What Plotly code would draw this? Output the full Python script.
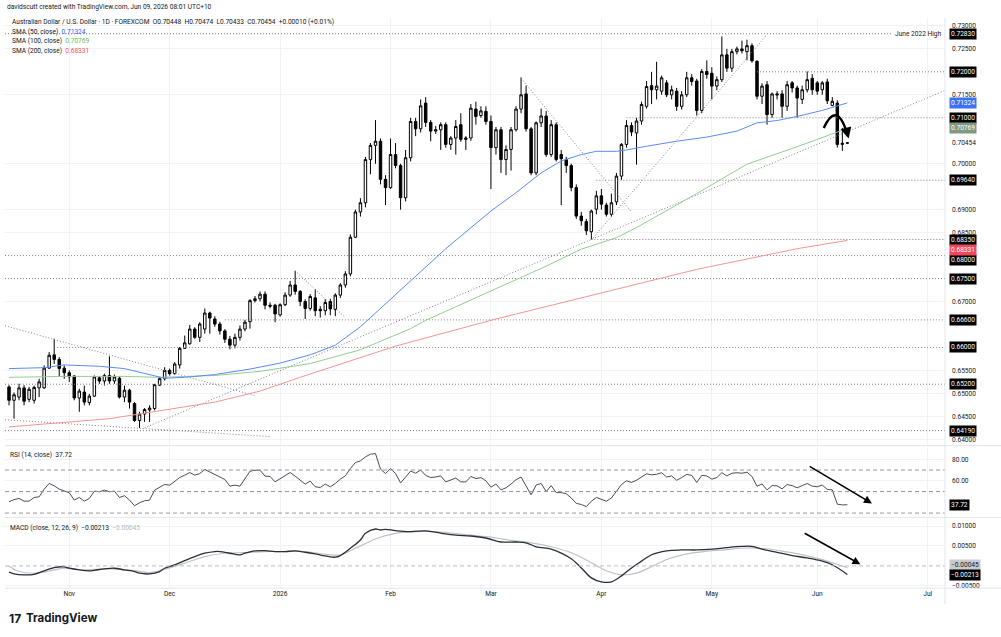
import pandas as pd
import plotly.graph_objects as go

# ---------------------------------------------------------------- data
HOLIDAYS = ["2025-12-25"]
SESSIONS = [d.strftime("%Y-%m-%d") for d in pd.bdate_range("2025-10-16", "2026-07-31")
            if d.strftime("%Y-%m-%d") not in HOLIDAYS]

opens = [
    0.6514, 0.6485, 0.6492, 0.6512, 0.6487, 0.6485, 0.6512, 0.6512, 0.6555, 0.6584,
    0.6574, 0.6555, 0.6545, 0.6538, 0.6490, 0.6503, 0.6480, 0.6494, 0.6534, 0.6527,
    0.6539, 0.6527, 0.6533, 0.6492, 0.6507, 0.6478, 0.6441, 0.6455, 0.6464, 0.6467,
    0.6518, 0.6532, 0.6550, 0.6543, 0.6562, 0.6598, 0.6608, 0.6640, 0.6622, 0.6640,
    0.6675, 0.6662, 0.6651, 0.6636, 0.6618, 0.6605, 0.6622, 0.6640, 0.6656, 0.6702,
    0.6706, 0.6716, 0.6692, 0.6692, 0.6671, 0.6693, 0.6714, 0.6736, 0.6722, 0.6700,
    0.6685, 0.6708, 0.6683, 0.6680, 0.6700, 0.6683, 0.6714, 0.6736, 0.6760, 0.6840,
    0.6895, 0.6915, 0.7009, 0.7040, 0.7049, 0.6966, 0.6948, 0.7020, 0.6996, 0.6926,
    0.7013, 0.7092, 0.7076, 0.7132, 0.7090, 0.7071, 0.7074, 0.7085, 0.7042, 0.7056,
    0.7085, 0.7053, 0.7056, 0.7119, 0.7105, 0.7114, 0.7092, 0.7035, 0.7074, 0.7009,
    0.7031, 0.7074, 0.7119, 0.7152, 0.7076, 0.6980, 0.7089, 0.7104, 0.7020, 0.7085,
    0.7020, 0.7009, 0.6996, 0.6948, 0.6886, 0.6874, 0.6852, 0.6901, 0.6930, 0.6910,
    0.6890, 0.6917, 0.6973, 0.7042, 0.7083, 0.7067, 0.7093, 0.7125, 0.7170, 0.7161,
    0.7158, 0.7176, 0.7150, 0.7158, 0.7125, 0.7150, 0.7187, 0.7180, 0.7116, 0.7201,
    0.7197, 0.7169, 0.7183, 0.7237, 0.7208, 0.7244, 0.7250, 0.7244, 0.7257, 0.7223,
    0.7147, 0.7172, 0.7107, 0.7152, 0.7152, 0.7125, 0.7176, 0.7165, 0.7140, 0.7161,
    0.7186, 0.7176, 0.7161, 0.7178, 0.7127, 0.7132, 0.7042, 0.70448,
]
highs = [
    0.6518, 0.6502, 0.6521, 0.6518, 0.6514, 0.6517, 0.6532, 0.6561, 0.6590, 0.6619,
    0.6579, 0.6561, 0.6550, 0.6539, 0.6510, 0.6517, 0.6499, 0.6539, 0.6538, 0.6543,
    0.6581, 0.6541, 0.6536, 0.6517, 0.6510, 0.6481, 0.6460, 0.6468, 0.6474, 0.6521,
    0.6536, 0.6557, 0.6554, 0.6568, 0.6601, 0.6626, 0.6649, 0.6644, 0.6655, 0.6685,
    0.6678, 0.6668, 0.6656, 0.6640, 0.6625, 0.6630, 0.6648, 0.6660, 0.6705, 0.6712,
    0.6722, 0.6722, 0.6698, 0.6695, 0.6696, 0.6720, 0.6745, 0.6767, 0.6725, 0.6705,
    0.6716, 0.6727, 0.6690, 0.6705, 0.6706, 0.6718, 0.6740, 0.6766, 0.6846, 0.6900,
    0.6925, 0.7015, 0.7045, 0.7095, 0.7055, 0.6975, 0.7055, 0.7045, 0.7000, 0.7030,
    0.7100, 0.7100, 0.7140, 0.7145, 0.7095, 0.7082, 0.7090, 0.7090, 0.7060, 0.7095,
    0.7110, 0.7060, 0.7130, 0.7135, 0.7125, 0.7125, 0.7105, 0.7080, 0.7080, 0.7040,
    0.7080, 0.7125, 0.7188, 0.7170, 0.7080, 0.7092, 0.7120, 0.7115, 0.7095, 0.7090,
    0.7030, 0.7015, 0.7000, 0.6955, 0.6895, 0.6880, 0.6900, 0.6941, 0.6945, 0.6915,
    0.6935, 0.6980, 0.7045, 0.7095, 0.7090, 0.7100, 0.7135, 0.7180, 0.7200, 0.7222,
    0.7192, 0.7182, 0.7170, 0.7165, 0.7158, 0.7200, 0.7195, 0.7185, 0.7206, 0.7225,
    0.7210, 0.7190, 0.7277, 0.7250, 0.7250, 0.7255, 0.7268, 0.7270, 0.7262, 0.7225,
    0.7175, 0.7180, 0.7155, 0.7158, 0.7160, 0.7180, 0.7180, 0.7170, 0.7170, 0.7201,
    0.7195, 0.7180, 0.7180, 0.7185, 0.7145, 0.7138, 0.7078, 0.70474,
]
lows = [
    0.6474, 0.6445, 0.6485, 0.6474, 0.6481, 0.6478, 0.6492, 0.6510, 0.6554, 0.6564,
    0.6536, 0.6532, 0.6525, 0.6485, 0.6460, 0.6474, 0.6474, 0.6492, 0.6521, 0.6517,
    0.6521, 0.6521, 0.6489, 0.6481, 0.6467, 0.6438, 0.6425, 0.6438, 0.6438, 0.6463,
    0.6516, 0.6528, 0.6539, 0.6541, 0.6554, 0.6597, 0.6606, 0.6619, 0.6612, 0.6630,
    0.6630, 0.6645, 0.6628, 0.6610, 0.6596, 0.6598, 0.6615, 0.6635, 0.6641, 0.6698,
    0.6700, 0.6683, 0.6685, 0.6655, 0.6667, 0.6690, 0.6710, 0.6715, 0.6690, 0.6662,
    0.6680, 0.6668, 0.6665, 0.6670, 0.6670, 0.6668, 0.6708, 0.6730, 0.6755, 0.6838,
    0.6885, 0.6905, 0.6977, 0.7000, 0.6955, 0.6910, 0.6945, 0.6990, 0.6900, 0.6918,
    0.7005, 0.7060, 0.7068, 0.7080, 0.7049, 0.7065, 0.7030, 0.7035, 0.7030, 0.7020,
    0.7048, 0.7030, 0.7050, 0.7085, 0.7100, 0.7085, 0.6945, 0.7020, 0.6980, 0.6975,
    0.6985, 0.7070, 0.7110, 0.7070, 0.6975, 0.6975, 0.7080, 0.7015, 0.7015, 0.7005,
    0.6910, 0.6980, 0.6940, 0.6880, 0.6865, 0.6845, 0.6835, 0.6890, 0.6900, 0.6885,
    0.6885, 0.6910, 0.6965, 0.7035, 0.7060, 0.6998, 0.7085, 0.7120, 0.7130, 0.7140,
    0.7150, 0.7145, 0.7140, 0.7115, 0.7118, 0.7145, 0.7170, 0.7105, 0.7110, 0.7185,
    0.7140, 0.7160, 0.7178, 0.7200, 0.7200, 0.7238, 0.7240, 0.7225, 0.7220, 0.7140,
    0.7130, 0.7085, 0.7100, 0.7140, 0.7100, 0.7115, 0.7155, 0.7100, 0.7130, 0.7155,
    0.7150, 0.7150, 0.7150, 0.7130, 0.7125, 0.7035, 0.7028, 0.70433,
]
closes = [
    0.6485, 0.6497, 0.6512, 0.6483, 0.6509, 0.6513, 0.6525, 0.6555, 0.6583, 0.6574,
    0.6554, 0.6545, 0.6536, 0.6490, 0.6505, 0.6481, 0.6494, 0.6536, 0.6527, 0.6539,
    0.6527, 0.6536, 0.6492, 0.6507, 0.6481, 0.6441, 0.6455, 0.6465, 0.6468, 0.6519,
    0.6532, 0.6550, 0.6543, 0.6564, 0.6598, 0.6610, 0.6640, 0.6622, 0.6651, 0.6675,
    0.6664, 0.6651, 0.6636, 0.6618, 0.6605, 0.6622, 0.6640, 0.6655, 0.6702, 0.6706,
    0.6716, 0.6692, 0.6690, 0.6673, 0.6693, 0.6714, 0.6736, 0.6722, 0.6700, 0.6685,
    0.6711, 0.6680, 0.6680, 0.6698, 0.6684, 0.6714, 0.6736, 0.6760, 0.6840, 0.6895,
    0.6915, 0.7009, 0.7040, 0.7049, 0.6966, 0.6948, 0.7020, 0.6996, 0.6926, 0.7013,
    0.7092, 0.7076, 0.7126, 0.7090, 0.7071, 0.7074, 0.7085, 0.7042, 0.7056, 0.7081,
    0.7053, 0.7056, 0.7121, 0.7103, 0.7115, 0.7092, 0.7035, 0.7074, 0.7009, 0.7031,
    0.7074, 0.7119, 0.7150, 0.7076, 0.6980, 0.7089, 0.7104, 0.7020, 0.7085, 0.7009,
    0.7011, 0.6996, 0.6948, 0.6886, 0.6876, 0.6854, 0.6897, 0.6930, 0.6912, 0.6890,
    0.6915, 0.6973, 0.7042, 0.7083, 0.7069, 0.7093, 0.7129, 0.7168, 0.7161, 0.7169,
    0.7187, 0.7150, 0.7161, 0.7125, 0.7150, 0.7187, 0.7179, 0.7116, 0.7201, 0.7194,
    0.7169, 0.7183, 0.7237, 0.7208, 0.7244, 0.7250, 0.7246, 0.7257, 0.7224, 0.7147,
    0.7169, 0.7107, 0.7152, 0.7150, 0.7125, 0.7172, 0.7165, 0.7143, 0.7161, 0.7183,
    0.7161, 0.7158, 0.7176, 0.7137, 0.7136, 0.7042, 0.70444, 0.70454,
]

# moving averages (bar number, value)
sma50_bars = [0, 7, 11, 18, 23, 28, 31, 35, 41, 48, 54, 60, 65, 70, 75, 80, 83, 87, 96, 101,
              106, 110, 114, 117, 121, 123, 127, 133, 139, 145, 149, 153, 157, 162, 167]
sma50_vals = [0.6554, 0.6556, 0.6562, 0.6559, 0.6554, 0.6541, 0.6533, 0.6535, 0.6541, 0.6553,
              0.6566, 0.6584, 0.6605, 0.6645, 0.6695, 0.6745, 0.6775, 0.6815, 0.6897, 0.6937,
              0.6980, 0.7006, 0.7020, 0.7027, 0.7027, 0.7030, 0.7038, 0.7049, 0.7058, 0.7071,
              0.7089, 0.7094, 0.7103, 0.7116, 0.71324]
sma100_bars = [0, 11, 23, 30, 41, 50, 60, 70, 80, 83, 97, 107, 114, 121, 125, 137, 147, 157, 167]
sma100_vals = [0.6535, 0.6537, 0.6537, 0.6535, 0.6539, 0.6548, 0.6565, 0.6595, 0.6641, 0.6659,
               0.6728, 0.6777, 0.6814, 0.6839, 0.6861, 0.6935, 0.6999, 0.7037, 0.70769]
sma200_bars = [0, 20, 41, 50, 58, 68, 77, 97, 117, 137, 157, 167]
sma200_vals = [0.6427, 0.6445, 0.6481, 0.6505, 0.6535, 0.6570, 0.6603, 0.6662, 0.6716, 0.6770,
               0.6815, 0.68331]

rsi14 = [
    40.5, 42.5, 43.6, 41.1, 41.1, 44.5, 45.1, 52.2, 57.5, 55.3,
    52.2, 50.4, 48.9, 42.1, 44.5, 41.1, 43.6, 50.4, 49.8, 51.3,
    49.8, 50.4, 44.5, 46.1, 42.1, 36.8, 39.6, 41.4, 42.1, 51.3,
    53.8, 56.6, 55.9, 59.7, 63.0, 65.2, 67.7, 65.2, 66.7, 70.5,
    68.3, 66.1, 63.7, 61.2, 55.0, 55.9, 55.0, 62.1, 68.9, 69.8,
    69.8, 64.3, 64.0, 59.0, 62.1, 64.6, 67.7, 64.3, 60.6, 56.9,
    59.7, 54.4, 53.8, 56.9, 54.4, 57.5, 61.5, 64.6, 71.4, 76.9,
    78.5, 82.2, 84.7, 85.3, 70.8, 66.7, 71.4, 66.7, 58.0, 64.0,
    69.0, 67.0, 70.0, 65.0, 63.0, 63.5, 64.5, 59.0, 60.5, 62.5,
    59.0, 59.0, 64.0, 62.0, 63.0, 60.0, 54.0, 57.0, 51.5, 53.5,
    57.0, 61.0, 63.5, 55.5, 47.0, 56.0, 57.5, 50.0, 55.5, 49.0,
    49.0, 48.0, 44.0, 39.0, 38.0, 36.0, 41.0, 44.5, 43.0, 41.0,
    44.0, 50.0, 56.5, 60.0, 58.5, 60.5, 63.5, 66.5, 65.5, 66.0,
    67.5, 63.5, 64.5, 60.5, 63.0, 66.0, 65.0, 58.5, 65.0, 64.5,
    61.5, 63.0, 67.5, 64.5, 67.0, 67.5, 67.0, 68.0, 64.0, 55.0,
    57.0, 51.5, 55.5, 55.3, 52.5, 56.5, 55.5, 53.5, 55.5, 57.5,
    55.0, 54.5, 56.0, 52.0, 51.5, 38.3, 37.6, 37.72,
]

macd_bars = [0, 1, 3, 5, 7, 9, 11, 12, 14, 16, 17, 19, 21, 23, 25, 26, 28, 30, 31, 33,
             35, 37, 39, 41, 42, 44, 46, 47, 49, 51, 53, 55, 57, 59, 61, 63, 65, 66, 68, 70,
             71, 73, 74, 75, 77, 80, 83, 86, 89, 92, 95, 98, 101, 103, 105, 108, 110, 112, 114, 116,
             118, 120, 122, 124, 126, 128, 131, 134, 137, 140, 143, 146, 148, 150, 153, 156, 159, 162, 164, 167]
macd_vals = [-0.00158, -0.0020, -0.00225, -0.0021, -0.00124, -0.0004, -0.00024, -0.00058, -0.0010, -0.00124,
             -0.0011, -0.00075, -0.00058, -0.0010, -0.00141, -0.00183, -0.0020, -0.00141, -0.00058, 0.00026,
             0.00134, 0.00234, 0.00318, 0.0036, 0.0036, 0.00318, 0.00276, 0.00318, 0.00376, 0.00384,
             0.0036, 0.0036, 0.00376, 0.00343, 0.00301, 0.00251, 0.00218, 0.00259, 0.00443, 0.00651,
             0.00818, 0.00926, 0.00901, 0.00918, 0.00884, 0.0086, 0.0088, 0.0082, 0.0077, 0.0075,
             0.0070, 0.0060, 0.0060, 0.0058, 0.0048, 0.0042, 0.0032, 0.0018, -0.0005, -0.0030,
             -0.0040, -0.0040, -0.0025, -0.0005, 0.0012, 0.0028, 0.0038, 0.0040, 0.0040, 0.0042,
             0.0046, 0.0049, 0.0049, 0.0042, 0.0034, 0.0026, 0.0020, 0.0012, 0.0003, -0.00213]
signal_bars = [0, 2, 5, 9, 11, 15, 20, 25, 28, 31, 35, 39, 43, 47, 51, 55, 59, 63, 66, 69,
               73, 75, 77, 80, 84, 88, 92, 96, 100, 104, 108, 112, 116, 119, 122, 125, 128, 131, 135, 139,
               143, 147, 151, 155, 159, 163, 167]
signal_vals = [0.0000, -0.00141, -0.00183, -0.0010, -0.00058, -0.0010, -0.00075, -0.00116, -0.00166, -0.00083,
               0.00068, 0.00234, 0.00318, 0.00334, 0.0036, 0.0036, 0.0036, 0.00293, 0.00276, 0.00443,
               0.00676, 0.0076, 0.00818, 0.0085, 0.0087, 0.0082, 0.0077, 0.0072, 0.0064, 0.0058,
               0.0048, 0.0033, 0.0008, -0.0012, -0.0022, -0.0018, -0.0002, 0.0016, 0.0030, 0.0037,
               0.0041, 0.0045, 0.0043, 0.0035, 0.0025, 0.0012, -0.00045]

# horizontal levels (value, first session or None = whole chart)
level_values = [0.7283, 0.7200, 0.7100, 0.6964, 0.6835, 0.6800, 0.6750, 0.6660, 0.6600, 0.6520, 0.6419]
level_starts = [None, "2026-05-14", "2026-04-08", "2026-03-31", "2026-03-30", None, None,
                "2025-12-16", "2025-10-29", None, None]
level_ends = ["2026-06-22", None, None, None, None, None, None, None, None, None, None]

# trend lines: (date a, price a, date b, price b, extend left, extend right)
trend_lines = [
    ("2025-10-16", 0.6645, "2025-12-24", 0.6495, True, False),
    ("2025-10-16", 0.6442, "2025-12-30", 0.6406, True, False),
    ("2025-11-24", 0.6425, "2026-03-30", 0.6835, False, True),
    ("2026-01-06", 0.6767, "2026-01-20", 0.6665, False, False),
    ("2026-03-10", 0.7186, "2026-04-09", 0.6895, False, False),
    ("2026-03-30", 0.6834, "2026-05-18", 0.7281, False, False),
]

month_tick_dates = ["2025-11-03", "2025-12-01", "2026-01-01", "2026-02-02", "2026-03-02",
                    "2026-04-01", "2026-05-01", "2026-06-01", "2026-07-01"]
month_tick_labels = ["Nov", "Dec", "2026", "Feb", "Mar", "Apr", "May", "Jun", "Jul"]

# ---------------------------------------------------------------- layout helpers
W, H = 1001, 637
FONT = "Roboto, 'Noto Sans', sans-serif"
TXT = "#131722"
FS = 6.6
BLUE, GREEN, RED = "#5b8cf5", "#93cc93", "#f29595"
DOT = "1px,2px"
DASH = "4px,3px"

n = len(closes)
bars = list(range(n))
dates = SESSIONS[:n]
pos = {d: i for i, d in enumerate(SESSIONS)}
X_RANGE = [-0.8, 186.45]


def px(x):
    return x / W


def py(y):
    return 1 - y / H


fig = go.Figure()

# level lines
for v, s, e in zip(level_values, level_starts, level_ends):
    x0 = X_RANGE[0] if s is None else pos[s]
    x1 = X_RANGE[1] if e is None else pos[e]
    fig.add_trace(go.Scatter(x=[x0, x1], y=[v, v], mode="lines", xaxis="x", yaxis="y",
                             line=dict(color="#7d818c", width=1, dash=DOT), hoverinfo="skip"))

# trend lines
for da, pa, db, pb, el, er in trend_lines:
    xa, xb = pos[da], pos[db]
    slope = (pb - pa) / (xb - xa)
    if el:
        pa, xa = pa + slope * (X_RANGE[0] - xa), X_RANGE[0]
    if er:
        pb, xb = pb + slope * (X_RANGE[1] - xb), X_RANGE[1]
    fig.add_trace(go.Scatter(x=[xa, xb], y=[pa, pb], mode="lines", xaxis="x", yaxis="y",
                             line=dict(color="#7d818c", width=1, dash=DOT), hoverinfo="skip"))

# moving averages
fig.add_trace(go.Scatter(x=sma200_bars, y=sma200_vals, mode="lines", line=dict(color=RED, width=1),
                         xaxis="x", yaxis="y", hoverinfo="skip"))
fig.add_trace(go.Scatter(x=sma100_bars, y=sma100_vals, mode="lines", line=dict(color=GREEN, width=1),
                         xaxis="x", yaxis="y", hoverinfo="skip"))
fig.add_trace(go.Scatter(x=sma50_bars, y=sma50_vals, mode="lines", line=dict(color=BLUE, width=1),
                         xaxis="x", yaxis="y", hoverinfo="skip"))

# candles
fig.add_trace(go.Candlestick(
    x=bars, open=opens, high=highs, low=lows, close=closes, text=dates,
    xaxis="x", yaxis="y",
    increasing=dict(line=dict(color="#000000", width=1), fillcolor="#ffffff"),
    decreasing=dict(line=dict(color="#000000", width=1), fillcolor="#000000"),
    whiskerwidth=0, hoverinfo="skip"))

# RSI
fig.add_trace(go.Scatter(x=bars, y=rsi14, mode="lines", line=dict(color="#4a4d55", width=1),
                         xaxis="x2", yaxis="y2", hoverinfo="skip"))
# MACD
fig.add_trace(go.Scatter(x=signal_bars, y=signal_vals, mode="lines", line=dict(color="#bfc1c7", width=1.2),
                         line_shape="spline", xaxis="x3", yaxis="y3", hoverinfo="skip"))
fig.add_trace(go.Scatter(x=macd_bars, y=macd_vals, mode="lines", line=dict(color="#2a2e39", width=1.3),
                         line_shape="spline", xaxis="x3", yaxis="y3", hoverinfo="skip"))

tickpos = [pos[d] for d in month_tick_dates]
GRID = "#f0f2f6"
xcommon = dict(range=X_RANGE, domain=[px(5), px(945)], tickmode="array", tickvals=tickpos,
               showgrid=True, gridcolor=GRID, zeroline=False, showline=False, fixedrange=True)

# price-scale ticks: TradingView hides ticks that sit under a price tag
tag_values = level_values + [0.71324, 0.70769, 0.68331, closes[-1]]
price_ticks = [round(0.640 + 0.005 * k, 3) for k in range(19)]
price_ticks = [t for t in price_ticks if min(abs(t - v) for v in tag_values) > 0.00145]

shapes = []
# RSI bands
for lvl in (70, 50, 30):
    shapes.append(dict(type="line", xref="x2 domain", x0=0, x1=1, yref="y2", y0=lvl, y1=lvl,
                       line=dict(color="#9598a1", width=1, dash=DASH)))
shapes.append(dict(type="line", xref="x3 domain", x0=0, x1=1, yref="y3", y0=0, y1=0,
                   line=dict(color="#b8bbc2", width=1, dash=DASH)))
# pane separators
for yy in (447, 519, 590):
    shapes.append(dict(type="line", xref="paper", yref="paper", x0=px(5), x1=px(1001), y0=py(yy), y1=py(yy),
                       line=dict(color="#e3e5ea", width=1)))
shapes.append(dict(type="line", xref="paper", yref="paper", x0=px(945), x1=px(945), y0=py(18), y1=py(606),
                   line=dict(color="#e3e5ea", width=1)))
# curved arrow drawing
shapes.append(dict(type="path", xref="x", yref="y", path="M 162.3,0.7078 Q 165.0,0.71412 167.1,0.70600",
                   line=dict(color="#000000", width=2.4)))

ann = []


def text_at(x, y, text, size=FS, color=TXT, anchor="left", family=FONT):
    ann.append(dict(xref="paper", yref="paper", x=px(x), y=py(y), text=text, showarrow=False,
                    xanchor=anchor, yanchor="middle", font=dict(family=family, size=size, color=color)))


def tag(value, yref, text, bg, fg="#ffffff", yshift=0):
    ann.append(dict(xref="paper", x=px(948.5), xanchor="left", yref=yref, y=value, yanchor="middle",
                    text=text, showarrow=False, bgcolor=bg, borderpad=1, yshift=yshift,
                    font=dict(family=FONT, size=FS, color=fg)))


NB = "\u00a0"
text_at(5, 7.5, "davidscutt created with TradingView.com, Jun 09, 2026 08:01 UTC+10")
text_at(10, 22.5, f"Australian Dollar / U.S. Dollar · 1D · FOREXCOM{NB*2}O0.70448{NB*2}H0.70474{NB*2}"
                  f"L0.70433{NB*2}C0.70454{NB*2}+0.00010 (+0.01%)")
text_at(10, 32, f"SMA (50, close){NB*2}<span style='color:#2962ff'>0.71324</span>")
text_at(10, 41.5, f"SMA (100, close){NB*2}<span style='color:#66bb6a'>0.70769</span>")
text_at(10, 51, f"SMA (200, close){NB*2}<span style='color:#f7525f'>0.68331</span>")
text_at(8, 456.5, f"RSI (14, close){NB*2}37.72")
text_at(8, 530, f"MACD (close, 12, 26, 9){NB*2}−0.00213{NB*2}<span style='color:#b2b5be'>−0.00045</span>")
text_at(7, 620, "<b>17</b>", size=12, family="Inter, Roboto, sans-serif")
text_at(24, 620, "<b>TradingView</b>", size=11.5, family="Inter, Roboto, sans-serif")
ann.append(dict(xref="paper", x=px(944), xanchor="right", yref="y", y=0.7283, yanchor="middle",
                text="June 2022 High", showarrow=False, font=dict(family=FONT, size=FS, color=TXT)))

# price scale tags
shift = {0.6800: -4}
for v in level_values:
    tag(v, "y", f"{v:.5f}", "#000000", yshift=shift.get(v, 0))
tag(0.71324, "y", "0.71324", "#3a72f5")
tag(0.70769, "y", "0.70769", "#7f9a80")
tag(0.68331, "y", "0.68331", "#f0485a", yshift=-10)
ann.append(dict(xref="paper", x=px(950), xanchor="left", yref="y", y=closes[-1], yanchor="middle",
                text=f"{closes[-1]:.5f}", showarrow=False, font=dict(family=FONT, size=FS, color=TXT)))
tag(rsi14[-1], "y2", f"{rsi14[-1]:.2f}", "#000000")
tag(signal_vals[-1], "y3", "−0.00045", "#c9cbd0", fg=TXT, yshift=2.5)
tag(macd_vals[-1], "y3", "−0.00213", "#000000", yshift=-1)

# arrow heads / arrows
ann.append(dict(xref="x", yref="y", axref="x", ayref="y", x=167.25, y=0.7055, ax=166.95, ay=0.7068,
                text="", showarrow=True, arrowhead=2, arrowsize=1, arrowwidth=2.2, arrowcolor="#000000"))
ann.append(dict(xref="x2", yref="y2", axref="x2", ayref="y2", x=171.9, y=39.0, ax=159.2, ay=74.2,
                text="", showarrow=True, arrowhead=2, arrowsize=1, arrowwidth=1.6, arrowcolor="#000000"))
ann.append(dict(xref="x3", yref="y3", axref="x3", ayref="y3", x=169.6, y=0.0004, ax=158.2, ay=0.0084,
                text="", showarrow=True, arrowhead=2, arrowsize=1, arrowwidth=1.6, arrowcolor="#000000"))

yfont = dict(family=FONT, size=FS, color=TXT)
fig.update_layout(
    width=W, height=H, autosize=False, margin=dict(l=0, r=0, t=0, b=0),
    paper_bgcolor="#ffffff", plot_bgcolor="#ffffff", showlegend=False, hovermode=False,
    xaxis=dict(**xcommon, anchor="y", showticklabels=False, rangeslider=dict(visible=False)),
    xaxis2=dict(**xcommon, anchor="y2", showticklabels=False, matches="x"),
    xaxis3=dict(**xcommon, anchor="y3", showticklabels=True, matches="x", ticktext=month_tick_labels,
                tickfont=yfont, ticks=""),
    yaxis=dict(domain=[py(446), py(18)], range=[0.638854, 0.731736], side="right", anchor="x",
               tickmode="array", tickvals=price_ticks, tickformat=".5f", tickfont=yfont,
               showgrid=True, gridcolor=GRID, zeroline=False, showline=False, ticks="",
               ticklabelstandoff=6, fixedrange=True),
    yaxis2=dict(domain=[py(518), py(448)], range=[26.94, 91.76], side="right", anchor="x2",
                tickmode="array", tickvals=[60, 80], tickformat=".2f", tickfont=yfont,
                showgrid=True, gridcolor=GRID, zeroline=False, showline=False, ticks="",
                ticklabelstandoff=6, fixedrange=True),
    yaxis3=dict(domain=[py(590), py(520)], range=[-0.005575, 0.011925], side="right", anchor="x3",
                tickmode="array", tickvals=[-0.005, 0.005, 0.01], tickformat=".5f", tickfont=yfont,
                showgrid=True, gridcolor=GRID, zeroline=False, showline=False, ticks="",
                ticklabelstandoff=6, fixedrange=True),
    shapes=shapes, annotations=ann,
)

fig.write_html("out.html", include_plotlyjs=True, config={"displayModeBar": False, "staticPlot": True})
